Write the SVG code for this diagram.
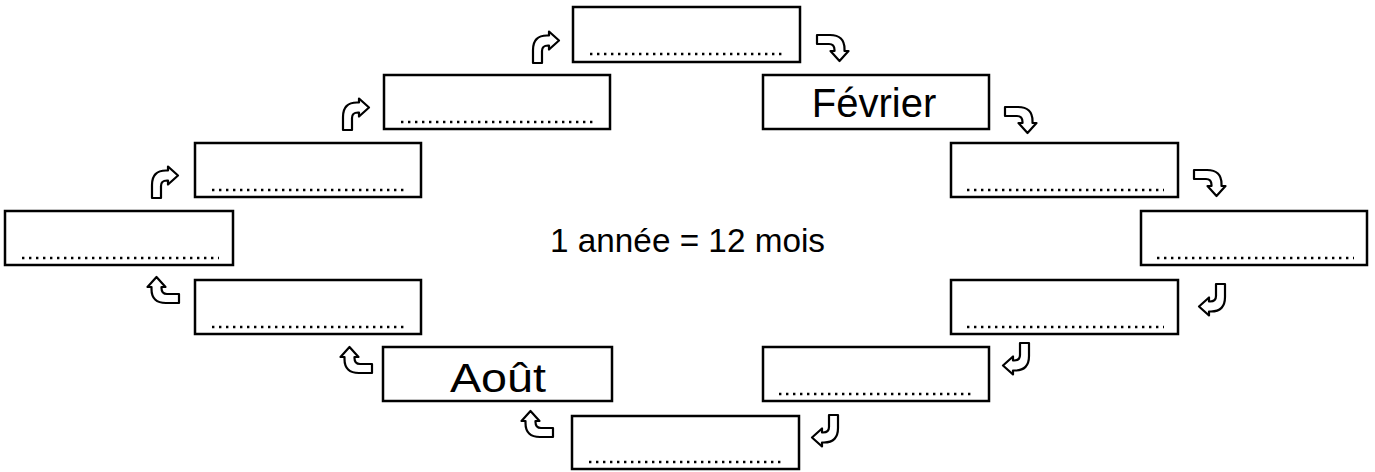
<svg xmlns="http://www.w3.org/2000/svg" xmlns:xlink="http://www.w3.org/1999/xlink" width="1375" height="472" viewBox="0 0 1375 472">
  <style>
    .box { fill: #ffffff; stroke: #000000; stroke-width: 2.5; }
    .dots { fill: none; stroke: #000000; stroke-width: 2.4; stroke-dasharray: 2.4 4.6; }
    .arrow { fill: #ffffff; stroke: #000000; stroke-width: 2.2; stroke-linejoin: round; }
    .month { font-family: "Liberation Sans", Arial, sans-serif; font-size: 40px; fill: #000000; text-anchor: middle; }
    .center { font-family: "Liberation Sans", Arial, sans-serif; font-size: 33px; fill: #000000; }
  </style>
  <defs>
    <path id="arr" d="M0,31 L0,18 Q0,3.5 14,3.5 L16,3.5 L16,-0.5 L26,8.5 L16,17.5 L16,13.5 L15,13.5 Q9,13.5 9,19 L9,31 Z"/>
  </defs>
  <rect width="1375" height="472" fill="#ffffff"/>

  <g id="node-top">
    <rect class="box" x="573" y="7" width="227" height="55"/>
    <line class="dots" x1="590" y1="54" x2="785" y2="54"/>
  </g>
  <g id="node-fevrier">
    <rect class="box" x="763" y="75" width="226" height="54"/>
    <text class="month" x="874" y="117">Février</text>
  </g>
  <g id="node-r3-right">
    <rect class="box" x="951" y="143" width="227" height="54"/>
    <line class="dots" x1="967" y1="190" x2="1164" y2="190"/>
  </g>
  <g id="node-r4-right">
    <rect class="box" x="1141" y="211" width="226" height="54"/>
    <line class="dots" x1="1157" y1="258" x2="1354" y2="258"/>
  </g>
  <g id="node-r5-right">
    <rect class="box" x="951" y="280" width="227" height="54"/>
    <line class="dots" x1="967" y1="327" x2="1164" y2="327"/>
  </g>
  <g id="node-r6-right">
    <rect class="box" x="763" y="347" width="226" height="54"/>
    <line class="dots" x1="779" y1="394" x2="974" y2="394"/>
  </g>
  <g id="node-bottom">
    <rect class="box" x="572" y="416" width="227" height="53"/>
    <line class="dots" x1="589" y1="462" x2="785" y2="462"/>
  </g>
  <g id="node-aout">
    <rect class="box" x="383" y="347" width="229" height="54"/>
    <text class="month" x="498" y="392" textLength="96" lengthAdjust="spacingAndGlyphs">Août</text>
  </g>
  <g id="node-r5-left">
    <rect class="box" x="195" y="280" width="226" height="54"/>
    <line class="dots" x1="212" y1="327" x2="408" y2="327"/>
  </g>
  <g id="node-r4-left">
    <rect class="box" x="5" y="211" width="228" height="54"/>
    <line class="dots" x1="22" y1="258" x2="219" y2="258"/>
  </g>
  <g id="node-r3-left">
    <rect class="box" x="195" y="143" width="226" height="54"/>
    <line class="dots" x1="212" y1="190" x2="408" y2="190"/>
  </g>
  <g id="node-r2-left">
    <rect class="box" x="384" y="75" width="226" height="54"/>
    <line class="dots" x1="401" y1="122" x2="597" y2="122"/>
  </g>
  <g id="node-center">
    <text class="center" x="550" y="252" textLength="275" lengthAdjust="spacingAndGlyphs">1 année = 12 mois</text>
  </g>

  <g id="connectors">
    <use class="arrow" xlink:href="#arr" href="#arr" transform="translate(533,32)"/>
    <use class="arrow" xlink:href="#arr" href="#arr" transform="translate(343,99)"/>
    <use class="arrow" xlink:href="#arr" href="#arr" transform="translate(152,167)"/>

    <use class="arrow" xlink:href="#arr" href="#arr" transform="translate(848,35) rotate(90)"/>
    <use class="arrow" xlink:href="#arr" href="#arr" transform="translate(1036,107) rotate(90)"/>
    <use class="arrow" xlink:href="#arr" href="#arr" transform="translate(1225,170) rotate(90)"/>

    <use class="arrow" xlink:href="#arr" href="#arr" transform="translate(1225,315) rotate(180)"/>
    <use class="arrow" xlink:href="#arr" href="#arr" transform="translate(1029,374) rotate(180)"/>
    <use class="arrow" xlink:href="#arr" href="#arr" transform="translate(838,446) rotate(180)"/>

    <use class="arrow" xlink:href="#arr" href="#arr" transform="translate(148,303) rotate(-90)"/>
    <use class="arrow" xlink:href="#arr" href="#arr" transform="translate(341,373) rotate(-90)"/>
    <use class="arrow" xlink:href="#arr" href="#arr" transform="translate(522,437) rotate(-90)"/>
  </g>
</svg>
